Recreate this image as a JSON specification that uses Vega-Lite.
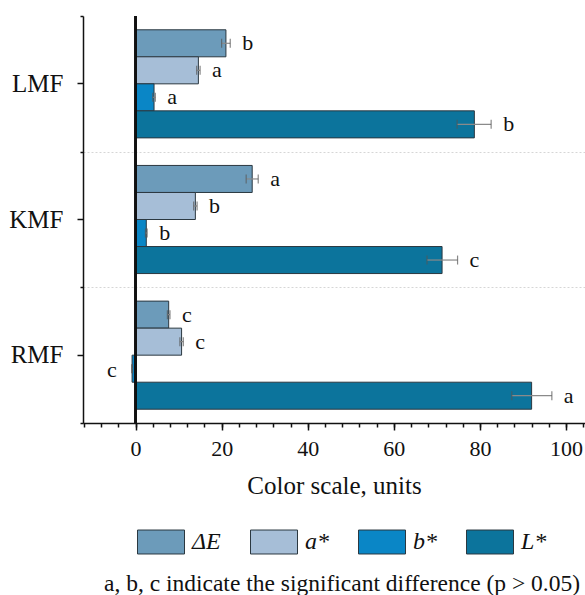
{
  "$schema": "https://vega.github.io/schema/vega-lite/v6.json",
  "width": 502,
  "height": 407,
  "autosize": "none",
  "padding": {"left": 83, "top": 16, "right": 0, "bottom": 172},
  "config": {
    "font": "Liberation Serif",
    "view": {"stroke": null},
    "axis": {"labelFont": "Liberation Serif", "titleFont": "Liberation Serif"},
    "legend": {"labelFont": "Liberation Serif", "titleFont": "Liberation Serif"},
    "text": {"font": "Liberation Serif"}
  },
  "data": {
    "values": [
      {"cat": "LMF", "s": "ΔE", "v": 21.0, "lo": 20.0, "hi": 22.0, "letter": "b"},
      {"cat": "LMF", "s": "a*", "v": 14.6, "lo": 14.2, "hi": 15.0, "letter": "a"},
      {"cat": "LMF", "s": "b*", "v": 4.3, "lo": 4.0, "hi": 4.6, "letter": "a"},
      {"cat": "LMF", "s": "L*", "v": 78.7, "lo": 74.7, "hi": 82.6, "letter": "b"},
      {"cat": "KMF", "s": "ΔE", "v": 27.1, "lo": 25.7, "hi": 28.5, "letter": "a"},
      {"cat": "KMF", "s": "a*", "v": 13.9, "lo": 13.5, "hi": 14.3, "letter": "b"},
      {"cat": "KMF", "s": "b*", "v": 2.5, "lo": 2.3, "hi": 2.7, "letter": "b"},
      {"cat": "KMF", "s": "L*", "v": 71.2, "lo": 67.7, "hi": 74.8, "letter": "c"},
      {"cat": "RMF", "s": "ΔE", "v": 7.7, "lo": 7.4, "hi": 8.0, "letter": "c"},
      {"cat": "RMF", "s": "a*", "v": 10.7, "lo": 10.3, "hi": 11.1, "letter": "c"},
      {"cat": "RMF", "s": "b*", "v": -0.8, "lo": -0.9, "hi": -0.7, "letter": "c"},
      {"cat": "RMF", "s": "L*", "v": 92.0, "lo": 87.4, "hi": 96.7, "letter": "a"}
    ]
  },
  "layer": [
    {
      "mark": {"type": "bar", "stroke": "#2b3840", "strokeWidth": 1},
      "encoding": {
        "y": {
          "field": "cat", "type": "nominal", "sort": ["LMF", "KMF", "RMF"],
          "scale": {"paddingInner": 0, "paddingOuter": 0},
          "axis": {
            "orient": "left", "title": null, "domainColor": "#111", "domainWidth": 1.5,
            "tickColor": "#111", "tickSize": 6, "tickWidth": 1.5, "labelFontSize": 25,
            "labelFont": "Liberation Serif", "labelColor": "#111", "labelPadding": 14, "grid": false
          }
        },
        "yOffset": {"field": "s", "type": "nominal", "sort": ["ΔE", "a*", "b*", "L*"], "scale": {"paddingInner": 0, "paddingOuter": 0.51}},
        "x": {
          "field": "v", "type": "quantitative",
          "scale": {"domain": [-12.2, 104.4], "nice": false, "zero": false},
          "axis": {
            "orient": "bottom", "values": [0, 20, 40, 60, 80, 100], "title": "Color scale, units",
            "titleFont": "Liberation Serif", "labelFont": "Liberation Serif",
            "titleFontSize": 25, "titleFontWeight": "normal", "titleColor": "#111", "titlePadding": 14,
            "labelFontSize": 22, "labelColor": "#111", "labelPadding": 8, "tickSize": 7, "tickWidth": 1.5,
            "tickColor": "#111", "domainColor": "#111", "domainWidth": 1.5, "grid": false
          }
        },
        "color": {
          "field": "s", "type": "nominal",
          "scale": {"domain": ["ΔE", "a*", "b*", "L*"], "range": ["#6c9bba", "#a6bed7", "#0a86c6", "#0c749c"]},
          "legend": {
            "title": "a, b, c indicate the significant difference (p > 0.05)",
            "titleOrient": "bottom", "titleAnchor": "middle", "titleFontSize": 23.5, "titleFontWeight": "normal",
            "titleFont": "Liberation Serif", "titleColor": "#111", "titleLimit": 700, "titlePadding": 16,
            "orient": "none", "direction": "horizontal", "legendX": 21, "legendY": 502,
            "symbolType": "M-1,-0.51H1V0.51H-1Z", "symbolSize": 2209, "symbolStrokeColor": "#2b3840",
            "symbolStrokeWidth": 1, "symbolOpacity": 1, "labelFontSize": 24, "labelFontStyle": "italic",
            "labelFont": "Liberation Serif", "labelColor": "#111", "labelOffset": 7, "columnPadding": 27
          }
        }
      }
    },
    {
      "mark": {"type": "rule", "color": "#8a8a8a", "strokeWidth": 1.2},
      "encoding": {
        "y": {
          "field": "cat", "type": "nominal", "sort": ["LMF", "KMF", "RMF"],
          "axis": {
            "orient": "left", "title": null, "tickBand": "extent", "labels": false, "domain": false,
            "tickSize": 3, "tickColor": "#111", "tickWidth": 1.5, "grid": true, "gridDash": [2, 2],
            "gridColor": "#cccccc", "gridWidth": 0.8,
            "gridOpacity": {"condition": {"test": "datum.extra != null", "value": 0}, "value": 1}
          }
        },
        "yOffset": {"field": "s", "type": "nominal", "sort": ["ΔE", "a*", "b*", "L*"]},
        "x": {
          "field": "lo", "type": "quantitative",
          "axis": {
            "orient": "bottom", "values": [-12, -8, -4, 0, 4, 8, 12, 16, 20, 24, 28, 32, 36, 40, 44, 48, 52, 56, 60, 64, 68, 72, 76, 80, 84, 88, 92, 96, 100, 104],
            "labels": false, "title": null, "domain": false, "tickSize": 4, "tickWidth": 1.5, "tickColor": "#111", "grid": false
          }
        },
        "x2": {"field": "hi"}
      }
    },
    {
      "mark": {"type": "tick", "color": "#555", "size": 9, "thickness": 1.2, "orient": "vertical"},
      "encoding": {
        "y": {"field": "cat", "type": "nominal", "sort": ["LMF", "KMF", "RMF"], "axis": null},
        "yOffset": {"field": "s", "type": "nominal", "sort": ["ΔE", "a*", "b*", "L*"]},
        "x": {"field": "lo", "type": "quantitative", "axis": null}
      }
    },
    {
      "mark": {"type": "tick", "color": "#555", "size": 9, "thickness": 1.2, "orient": "vertical"},
      "encoding": {
        "y": {"field": "cat", "type": "nominal", "sort": ["LMF", "KMF", "RMF"], "axis": null},
        "yOffset": {"field": "s", "type": "nominal", "sort": ["ΔE", "a*", "b*", "L*"]},
        "x": {"field": "hi", "type": "quantitative", "axis": null}
      }
    },
    {
      "transform": [{"filter": "datum.v > 0"}],
      "mark": {"type": "text", "align": "left", "baseline": "middle", "dx": 12, "fontSize": 22, "color": "#111", "font": "Liberation Serif"},
      "encoding": {
        "y": {"field": "cat", "type": "nominal", "sort": ["LMF", "KMF", "RMF"], "axis": null},
        "yOffset": {"field": "s", "type": "nominal", "sort": ["ΔE", "a*", "b*", "L*"]},
        "x": {"field": "hi", "type": "quantitative", "axis": null},
        "text": {"field": "letter"}
      }
    },
    {
      "transform": [{"filter": "datum.v < 0"}],
      "mark": {"type": "text", "align": "right", "baseline": "middle", "dx": -15, "dy": 1, "fontSize": 22, "color": "#111", "font": "Liberation Serif"},
      "encoding": {
        "y": {"field": "cat", "type": "nominal", "sort": ["LMF", "KMF", "RMF"], "axis": null},
        "yOffset": {"field": "s", "type": "nominal", "sort": ["ΔE", "a*", "b*", "L*"]},
        "x": {"field": "lo", "type": "quantitative", "axis": null},
        "text": {"field": "letter"}
      }
    },
    {
      "mark": {"type": "rule", "color": "#111", "strokeWidth": 1.5},
      "encoding": {
        "x": {"datum": 0, "type": "quantitative", "axis": null}
      }
    }
  ],
  "resolve": {"axis": {"x": "independent", "y": "independent"}}
}
